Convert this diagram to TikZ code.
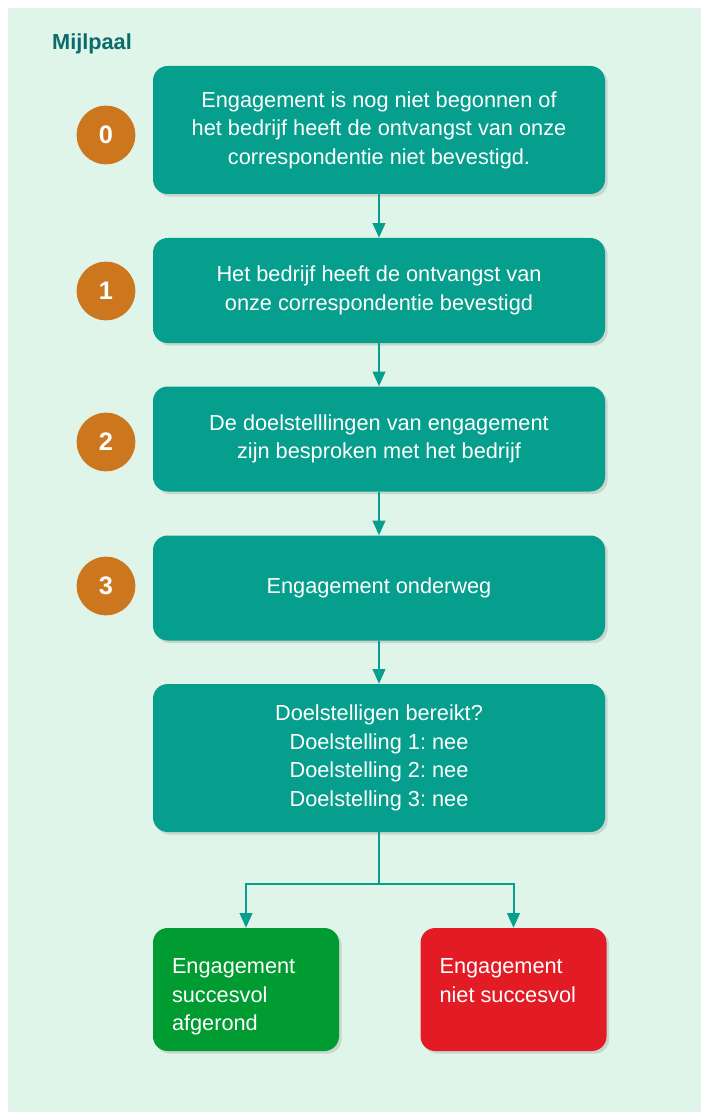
\documentclass[tikz,border=0pt]{standalone}
\usepackage{fontspec}
\setmainfont{Liberation Sans}
\usetikzlibrary{arrows.meta,shadows}
\frenchspacing

\definecolor{panelbg}{HTML}{E0F5EA}
\definecolor{stepteal}{HTML}{069E8C}
\definecolor{milestone}{HTML}{CC761E}
\definecolor{titleteal}{HTML}{0B6B6B}
\definecolor{okgreen}{HTML}{009C31}
\definecolor{failred}{HTML}{E31B24}

\tikzset{
    stepbox/.style={rectangle, rounded corners=11pt, fill=stepteal, text=white,
        minimum width=339pt, align=center, font=\fontsize{16.3}{21.4}\selectfont,
        drop shadow={opacity=0.25, shadow xshift=2pt, shadow yshift=-2pt}},
    endbox/.style={rectangle, rounded corners=11pt, text=white, inner sep=0pt,
        minimum width=139.5pt, minimum height=92.25pt, font=\fontsize{16.3}{21.4}\selectfont,
        drop shadow={opacity=0.25, shadow xshift=2pt, shadow yshift=-2pt}},
    stepnum/.style={circle, fill=milestone, text=white, minimum size=44pt, inner sep=0pt,
        font=\bfseries\fontsize{19}{20}\selectfont},
    flow/.style={stepteal, line width=1.5pt, -{Triangle[width=9.5pt,length=11pt]}}
}

\begin{document}
\begin{tikzpicture}[x=0.75pt, y=-0.75pt]
        \useasboundingbox (0, 0) rectangle (701, 1112);
        \fill[panelbg] (8, 8) rectangle (701, 1112);
        \node[text=titleteal, font=\bfseries\fontsize{16.3}{18}\selectfont] (title) at (92, 44) {Mijlpaal};

        % steps
        \node[stepbox, minimum height=96pt] (s0) at (379, 130)
            {Engagement is nog niet begonnen of\\het bedrijf heeft de ontvangst van onze\\correspondentie niet bevestigd.};
        \node[stepbox, minimum height=78.75pt] (s1) at (379, 290.5)
            {Het bedrijf heeft de ontvangst van\\onze correspondentie bevestigd};
        \node[stepbox, minimum height=78.75pt] (s2) at (379, 439)
            {De doelstelllingen van engagement\\zijn besproken met het bedrijf};
        \node[stepbox, minimum height=78.75pt] (s3) at (379, 588)
            {Engagement onderweg};
        \node[stepbox, minimum height=111pt] (s4) at (379, 758)
            {Doelstelligen bereikt?\\Doelstelling 1: nee\\Doelstelling 2: nee\\Doelstelling 3: nee};

        % milestones
        \foreach \n/\y in {0/135, 1/291, 2/442, 3/586} {
            \node[stepnum] (m\n) at (106, \y) {\n};
        }

        % outcomes
        \node[endbox, fill=okgreen] (done) at (246, 989.5)
            {\parbox[c][46pt][t]{111pt}{Engagement\\succesvol\\afgerond}};
        \node[endbox, fill=failred] (fail) at (513.5, 989.5)
            {\parbox[c][46pt][t]{111pt}{Engagement\\niet succesvol}};

        \foreach \a/\b in {s0/s1, s1/s2, s2/s3, s3/s4} {
            \draw[flow] (\a) -- (\b);
        }
        \coordinate (split) at (379, 884);
        \draw[stepteal, line width=1.5pt] (s4) -- (split);
        \draw[flow] (split) -| (done);
        \draw[flow] (split) -| (fail);
    \end{tikzpicture}
\end{document}
